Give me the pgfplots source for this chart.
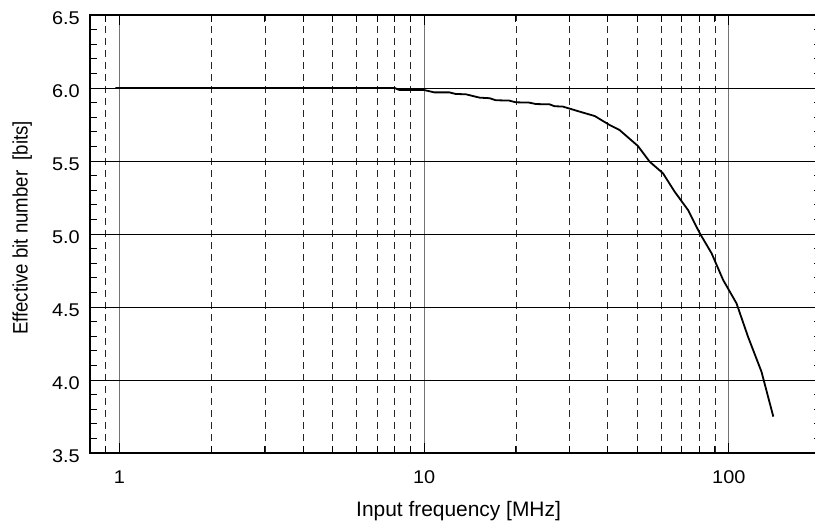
\documentclass[border=0pt]{standalone}
\usepackage{pgfplots}
\pgfplotsset{compat=1.18}
\usepackage{fontspec}
\setmainfont{Liberation Sans}
\newfontfamily\tickfont{Liberation Sans}[FakeStretch=1.08]
\newfontfamily\ylabfont{Liberation Sans}[FakeStretch=0.89]

\pgfplotstableread{
f      enob
0.97   6.000
8.0    6.000
8.3    5.986
10.0   5.986
10.8   5.970
12.1   5.970
12.7   5.959
13.7   5.957
15.2   5.934
16.4   5.930
17.2   5.916
19.0   5.914
20.0   5.902
22.1   5.900
23.3   5.890
25.8   5.888
26.8   5.875
28.5   5.873
32.4   5.838
36.3   5.808
40.6   5.747
43.8   5.712
50.3   5.603
55.0   5.495
60.8   5.416
66.4   5.290
73.5   5.164
80.3   5.005
87.8   4.868
95.8   4.685
106    4.525
115.6  4.297
128    4.057
140    3.749
}\enobdata

\begin{document}
\begin{tikzpicture}
\begin{axis}[
  scale only axis,
  width=730.5bp, height=438bp,
  xmode=log,
  xmin=0.8, xmax=200,
  ymin=3.5, ymax=6.5,
  xtick={1,10,100},
  xticklabels={1,10,100},
  minor xtick={0.9,2,3,4,5,6,7,8,9,20,30,40,50,60,70,80,90},
  ytick={3.5,4.0,4.5,5.0,5.5,6.0,6.5},
  minor ytick={3.6,3.7,3.8,3.9,4.1,4.2,4.3,4.4,4.6,4.7,4.8,4.9,5.1,5.2,5.3,5.4,5.6,5.7,5.8,5.9,6.1,6.2,6.3,6.4},
  yticklabel style={/pgf/number format/fixed, /pgf/number format/fixed zerofill, /pgf/number format/precision=1},
  /pgf/number format/assume math mode=true,
  tick align=inside,
  major tick length=10bp,
  minor tick length=7bp,
  every tick/.style={black, line width=0.8bp},
  xmajorgrids, xminorgrids,
  major grid style={black!55, line width=1.3bp},
  minor grid style={black!85, line width=0.7bp, dash pattern=on 7bp off 5bp},
  extra y ticks={4.0,4.5,5.0,5.5,6.0},
  extra y tick labels={},
  extra y tick style={ymajorgrids=true, xmajorgrids=false, xminorgrids=false,
     major tick length=0pt,
     major grid style={black, line width=0.7bp, solid}},
  axis line style={black, line width=1.3bp},
  xticklabel style={font=\tickfont\fontsize{18.5}{20}\selectfont, anchor=base, inner sep=0pt, yshift=-30.3bp},
  yticklabel style={font=\tickfont\fontsize{18.5}{20}\selectfont, anchor=east, inner sep=0pt, xshift=-10bp, yshift=-3bp},
  xlabel={Input frequency [MHz]},
  xlabel style={font=\fontsize{21}{24}\selectfont, at={(axis description cs:0.5045,-0.1454)}, anchor=base},
  ylabel={Effective bit number\ \ [bits]},
  ylabel style={font=\ylabfont\fontsize{21}{24}\selectfont, at={(axis description cs:-0.0853,0.514)}, anchor=base},
  clip=true,
]
\addplot[black, line width=1.8bp] table[x=f, y=enob] {\enobdata};
\end{axis}
\pgfresetboundingbox
\path[use as bounding box] (current axis.south west) ++(-90bp,-73bp) rectangle ([xshift=-5.5bp,yshift=15bp]current axis.north east);
\end{tikzpicture}
\end{document}
